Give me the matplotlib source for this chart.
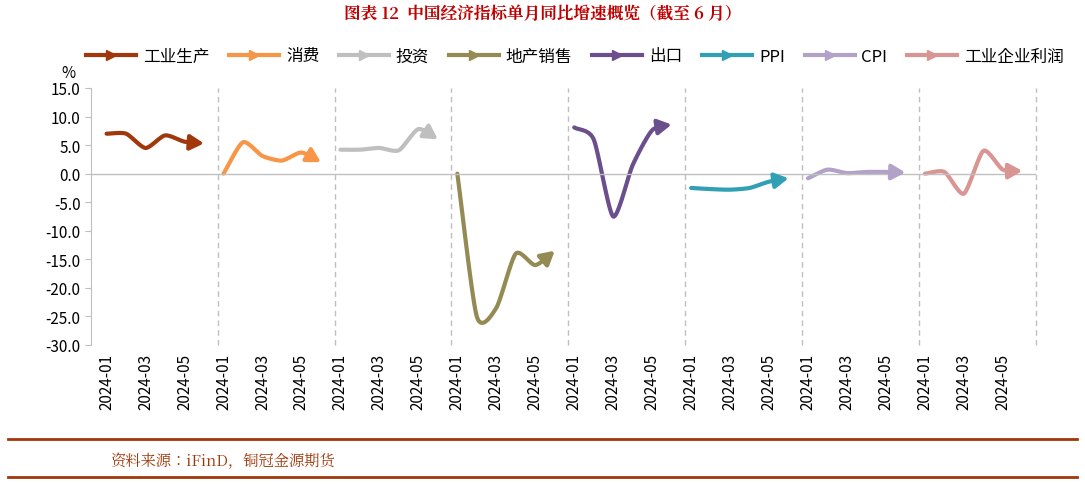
import numpy as np
import matplotlib
matplotlib.use("Agg")
import matplotlib.pyplot as plt
from matplotlib.lines import Line2D
from matplotlib import font_manager as fm

names = sorted({f.name for f in fm.fontManager.ttflist})
sans = next((n for n in names if "Sans CJK SC" in n), None) or next((n for n in names if "Sans CJK" in n), "DejaVu Sans")
serif = next((n for n in names if "Serif CJK SC" in n), None) or next((n for n in names if "Serif CJK" in n), sans)
plt.rcParams["font.family"] = [sans, "DejaVu Sans"]

months = ["2024-01", "2024-02", "2024-03", "2024-04", "2024-05", "2024-06"]
series_names = ["工业生产", "消费", "投资", "地产销售", "出口", "PPI", "CPI", "工业企业利润"]
ip = [7.0, 7.0, 4.5, 6.7, 5.6, 5.3]
retail = [0.0, 5.5, 3.1, 2.3, 3.7, 2.0]
invest = [4.2, 4.2, 4.5, 4.1, 7.8, 6.0]
property_sales = [0.0, -25.0, -23.5, -14.0, -16.0, -13.5]
exports = [8.1, 6.0, -7.5, 1.5, 7.6, 8.6]
ppi = [-2.5, -2.7, -2.8, -2.5, -1.4, -0.8]
cpi = [-0.8, 0.7, 0.1, 0.3, 0.3, 0.2]
profits = [0.0, 0.3, -3.5, 4.0, 0.7, 0.5]
all_series = [ip, retail, invest, property_sales, exports, ppi, cpi, profits]
colors = ["#A0380B", "#F79646", "#BFBFBF", "#948A54", "#6A4F8C", "#31A0B5", "#B3A2C7", "#D99594"]

def catmull(x, y, n=20, tension=0.35):
    x = np.asarray(x, float); y = np.asarray(y, float)
    px = np.concatenate([[2*x[0]-x[1]], x, [2*x[-1]-x[-2]]])
    py = np.concatenate([[2*y[0]-y[1]], y, [2*y[-1]-y[-2]]])
    xs, ys = [], []
    t = np.linspace(0, 1, n, endpoint=False)
    h00 = 2*t**3 - 3*t**2 + 1; h10 = t**3 - 2*t**2 + t
    h01 = -2*t**3 + 3*t**2; h11 = t**3 - t**2
    for i in range(1, len(px)-2):
        for arr, out in ((px, xs), (py, ys)):
            p0, p1, p2, p3 = arr[i-1], arr[i], arr[i+1], arr[i+2]
            m1 = tension*(p2-p0); m2 = tension*(p3-p1)
            out.extend(h00*p1 + h10*m1 + h01*p2 + h11*m2)
    xs.append(x[-1]); ys.append(y[-1])
    return np.array(xs), np.array(ys)

fig = plt.figure(figsize=(10.85, 4.85), dpi=100)
ax = fig.add_axes([91/1085, 1-346/485, (1036-91)/1085, (346-89)/485])

ticks, labels = [], []
for k, (vals, c) in enumerate(zip(all_series, colors)):
    x = np.arange(6) + 6*k
    xs, ys = catmull(x, vals)
    ax.plot(xs[:-8], ys[:-8], color=c, lw=3, solid_capstyle="round")
    ax.annotate("", xy=(xs[-1], ys[-1]), xytext=(xs[-9], ys[-9]),
                arrowprops=dict(arrowstyle="-|>,head_length=0.8,head_width=0.45", color=c, lw=3,
                                shrinkA=0, shrinkB=0))
    for j in (0, 2, 4):
        ticks.append(6*k + j); labels.append(months[j])
    ax.axvline(6*k + 5.7, color="#BFBFBF", ls=(0, (4, 3)), lw=1, clip_on=False)

ax.axhline(0, color="#BFBFBF", lw=1)
ax.set_xlim(-0.8, 47.7)
ax.set_ylim(-30, 15)
ax.set_yticks(np.arange(-30, 15.1, 5))
ax.set_yticklabels([f"{v:.1f}" for v in np.arange(-30, 15.1, 5)], fontsize=11)
ax.set_xticks(ticks)
ax.set_xticklabels(labels, rotation=90, fontsize=11)
ax.tick_params(axis="x", length=0, pad=6)
ax.tick_params(axis="y", length=4, color="#BFBFBF")
for s in ("top", "right", "bottom"):
    ax.spines[s].set_visible(False)
ax.spines["left"].set_color("#BFBFBF")
fig.text(68/1085, 1-73/485, "%", fontsize=11, ha="center", va="center")

handles = [Line2D([0], [0], color=c, lw=3, marker=">", markersize=7, markevery=[1]) for c in colors]
fig.legend(handles, series_names, loc="center", bbox_to_anchor=(0.53, 1-57/485), ncol=8,
           frameon=False, fontsize=12, handlelength=3, columnspacing=1.2, handletextpad=0.4)

fig.text(0.5, 1-15/485, "图表 12  中国经济指标单月同比增速概览（截至 6 月）", ha="center", va="center",
         fontsize=12, color="#C00000", fontweight="bold", family=serif)
fig.add_artist(Line2D([8/1085, 1077/1085], [1-440/485]*2, color="#A0380B", lw=2))
fig.add_artist(Line2D([8/1085, 1077/1085], [1-478/485]*2, color="#A0380B", lw=2))
fig.text(110/1085, 1-462/485, "资料来源：iFinD，铜冠金源期货", fontsize=11, color="#A0380B", va="center",
         family=serif)

fig.savefig("out.png", dpi=100)
